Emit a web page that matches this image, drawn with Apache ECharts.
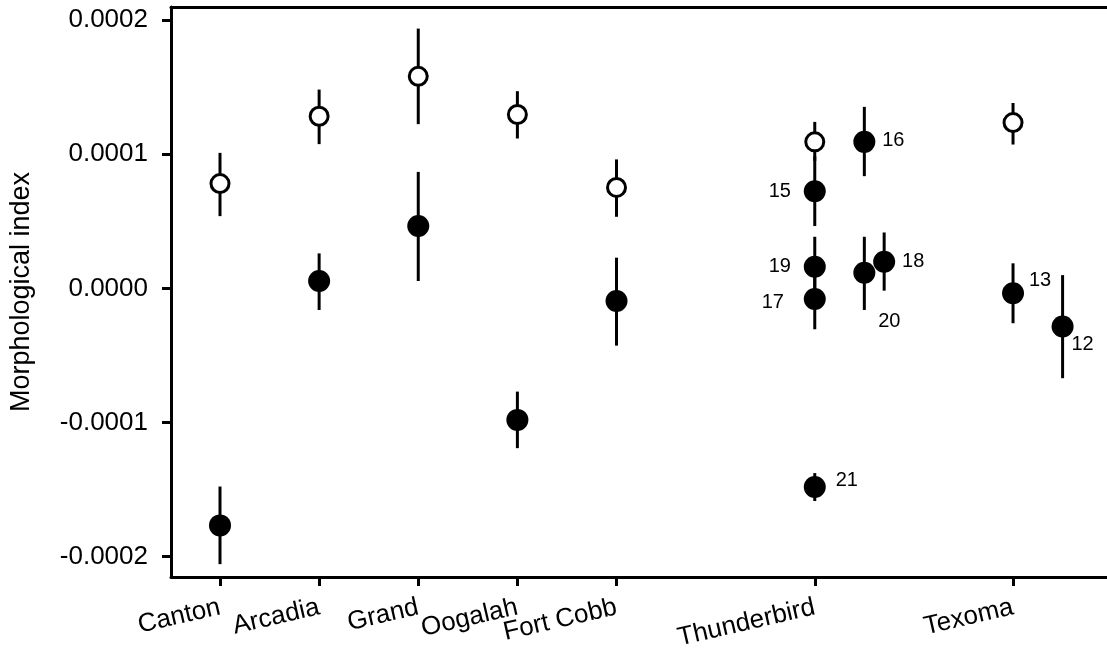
<!DOCTYPE html>
<html>
<head>
<meta charset="utf-8">
<script src="https://cdn.jsdelivr.net/npm/echarts@6/dist/echarts.min.js"></script>
<style>
html,body{margin:0;padding:0;background:#fff;}
#chart{width:1107px;height:655px;}
</style>
</head>
<body>
<div id="chart"></div>
<script>
// Categories and their x positions on the value axis
const categories = ['Canton', 'Arcadia', 'Grand', 'Oogalah', 'Fort Cobb', 'Thunderbird', 'Texoma'];
const categoryPos = [1, 2, 3, 4, 5, 7, 9];

// Open circles (one per category)
const openMean = [7.82e-5, 1.284e-4, 1.582e-4, 1.297e-4, 7.53e-5, 1.093e-4, 1.237e-4];
const openLow  = [5.39e-5, 1.076e-4, 1.225e-4, 1.118e-4, 5.34e-5, 9.5e-5, 1.073e-4];
const openHigh = [1.011e-4, 1.483e-4, 1.938e-4, 1.471e-4, 9.62e-5, 1.242e-4, 1.383e-4];

// Filled circles
const filledX    = [1, 2, 3, 4, 5, 7, 7, 7, 7, 7.5, 7.5, 7.7, 9, 9.5];
const filledMean = [-1.768e-4, 5.5e-6, 4.65e-5, -9.81e-5, -9.4e-6, 7.25e-5, 1.61e-5, -7.9e-6, -1.482e-4, 1.093e-4, 1.17e-5, 1.99e-5, -3.7e-6, -2.85e-5];
const filledLow  = [-2.057e-4, -1.61e-5, 5.5e-6, -1.192e-4, -4.27e-5, 4.65e-5, -6.3e-6, -3.05e-5, -1.586e-4, 8.37e-5, -1.61e-5, -1.7e-6, -2.6e-5, -6.7e-5];
const filledHigh = [-1.478e-4, 2.61e-5, 8.69e-5, -7.7e-5, 2.29e-5, 9.85e-5, 3.85e-5, 1.47e-5, -1.378e-4, 1.354e-4, 3.85e-5, 4.17e-5, 1.87e-5, 9.9e-6];
const filledLabels = ['', '', '', '', '', '15', '19', '17', '21', '16', '20', '18', '13', '12'];

// Y tick labels
const yTicks = [-0.0002, -0.0001, 0, 0.0001, 0.0002];
const yTickLabels = ['-0.0002', '-0.0001', '0.0000', '0.0001', '0.0002'];

// label offsets (style only)
const labelOffsets = {
  '15': [-35, 0], '19': [-35, 0], '17': [-42, 4], '21': [32, -7],
  '16': [29, -1], '20': [25, 49], '18': [29, 0], '13': [27, -13], '12': [20, 18]
};

const FONT = 'Liberation Sans, Arial, sans-serif';
const X_MIN = 0.5057, X_MAX = 9.948;
const Y_MIN = -0.0002153, Y_MAX = 0.0002099;

const errData = [];
categoryPos.forEach((x, i) => errData.push([x, openLow[i], openHigh[i]]));
filledX.forEach((x, i) => errData.push([x, filledLow[i], filledHigh[i]]));

const openData = categoryPos.map((x, i) => [x, openMean[i]]);
const filledData = filledX.map((x, i) => {
  const lab = filledLabels[i];
  const item = { value: [x, filledMean[i]] };
  if (lab) {
    item.label = {
      show: true, formatter: lab, position: 'inside',
      offset: labelOffsets[lab], color: '#000', fontSize: 20, fontFamily: FONT
    };
  }
  return item;
});

const chart = echarts.init(document.getElementById('chart'), null, { renderer: 'canvas' });
chart.setOption({
  animation: false,
  backgroundColor: '#fff',
  grid: { left: 171, right: 0, top: 7, bottom: 78, containLabel: false },
  xAxis: [{
    type: 'value', min: X_MIN, max: X_MAX, position: 'bottom',
    splitLine: { show: false },
    axisLine: { show: true, onZero: false, lineStyle: { color: '#000', width: 3 } },
    axisTick: { show: true, customValues: categoryPos, length: 9, lineStyle: { color: '#000', width: 3 } },
    axisLabel: {
      show: true, customValues: categoryPos, rotate: 13, margin: 30,
      color: '#000', fontSize: 26, fontFamily: FONT,
      formatter: v => categories[categoryPos.indexOf(v)] || ''
    }
  }, {
    type: 'value', min: X_MIN, max: X_MAX, position: 'top',
    splitLine: { show: false },
    axisLine: { show: true, onZero: false, lineStyle: { color: '#000', width: 3 } },
    axisTick: { show: false }, axisLabel: { show: false }
  }],
  yAxis: {
    type: 'value', min: Y_MIN, max: Y_MAX,
    name: 'Morphological index', nameLocation: 'middle', nameGap: 136,
    nameTextStyle: { color: '#000', fontSize: 27, fontFamily: FONT },
    splitLine: { show: false },
    axisLine: { show: true, onZero: false, lineStyle: { color: '#000', width: 3 } },
    axisTick: { show: true, customValues: yTicks, length: 9, lineStyle: { color: '#000', width: 3 } },
    axisLabel: {
      show: true, customValues: yTicks, margin: 23,
      color: '#000', fontSize: 26, fontFamily: FONT,
      formatter: v => {
        const idx = yTicks.findIndex(t => Math.abs(t - v) < 1e-9);
        return idx >= 0 ? yTickLabels[idx] : '';
      }
    }
  },
  series: [{
    type: 'custom',
    z: 1,
    data: errData,
    encode: { x: 0, y: [1, 2] },
    renderItem: (params, api) => {
      const p1 = api.coord([api.value(0), api.value(1)]);
      const p2 = api.coord([api.value(0), api.value(2)]);
      return {
        type: 'line',
        shape: { x1: p1[0], y1: p1[1], x2: p2[0], y2: p2[1] },
        style: { stroke: '#000', lineWidth: 3 }
      };
    }
  }, {
    type: 'scatter', z: 3,
    data: openData, symbol: 'circle', symbolSize: 18,
    itemStyle: { color: '#fff', borderColor: '#000', borderWidth: 3, opacity: 1 }
  }, {
    type: 'scatter', z: 3,
    data: filledData, symbol: 'circle', symbolSize: 22,
    itemStyle: { color: '#000', opacity: 1 },
    label: { show: false }
  }]
});
</script>
</body>
</html>
